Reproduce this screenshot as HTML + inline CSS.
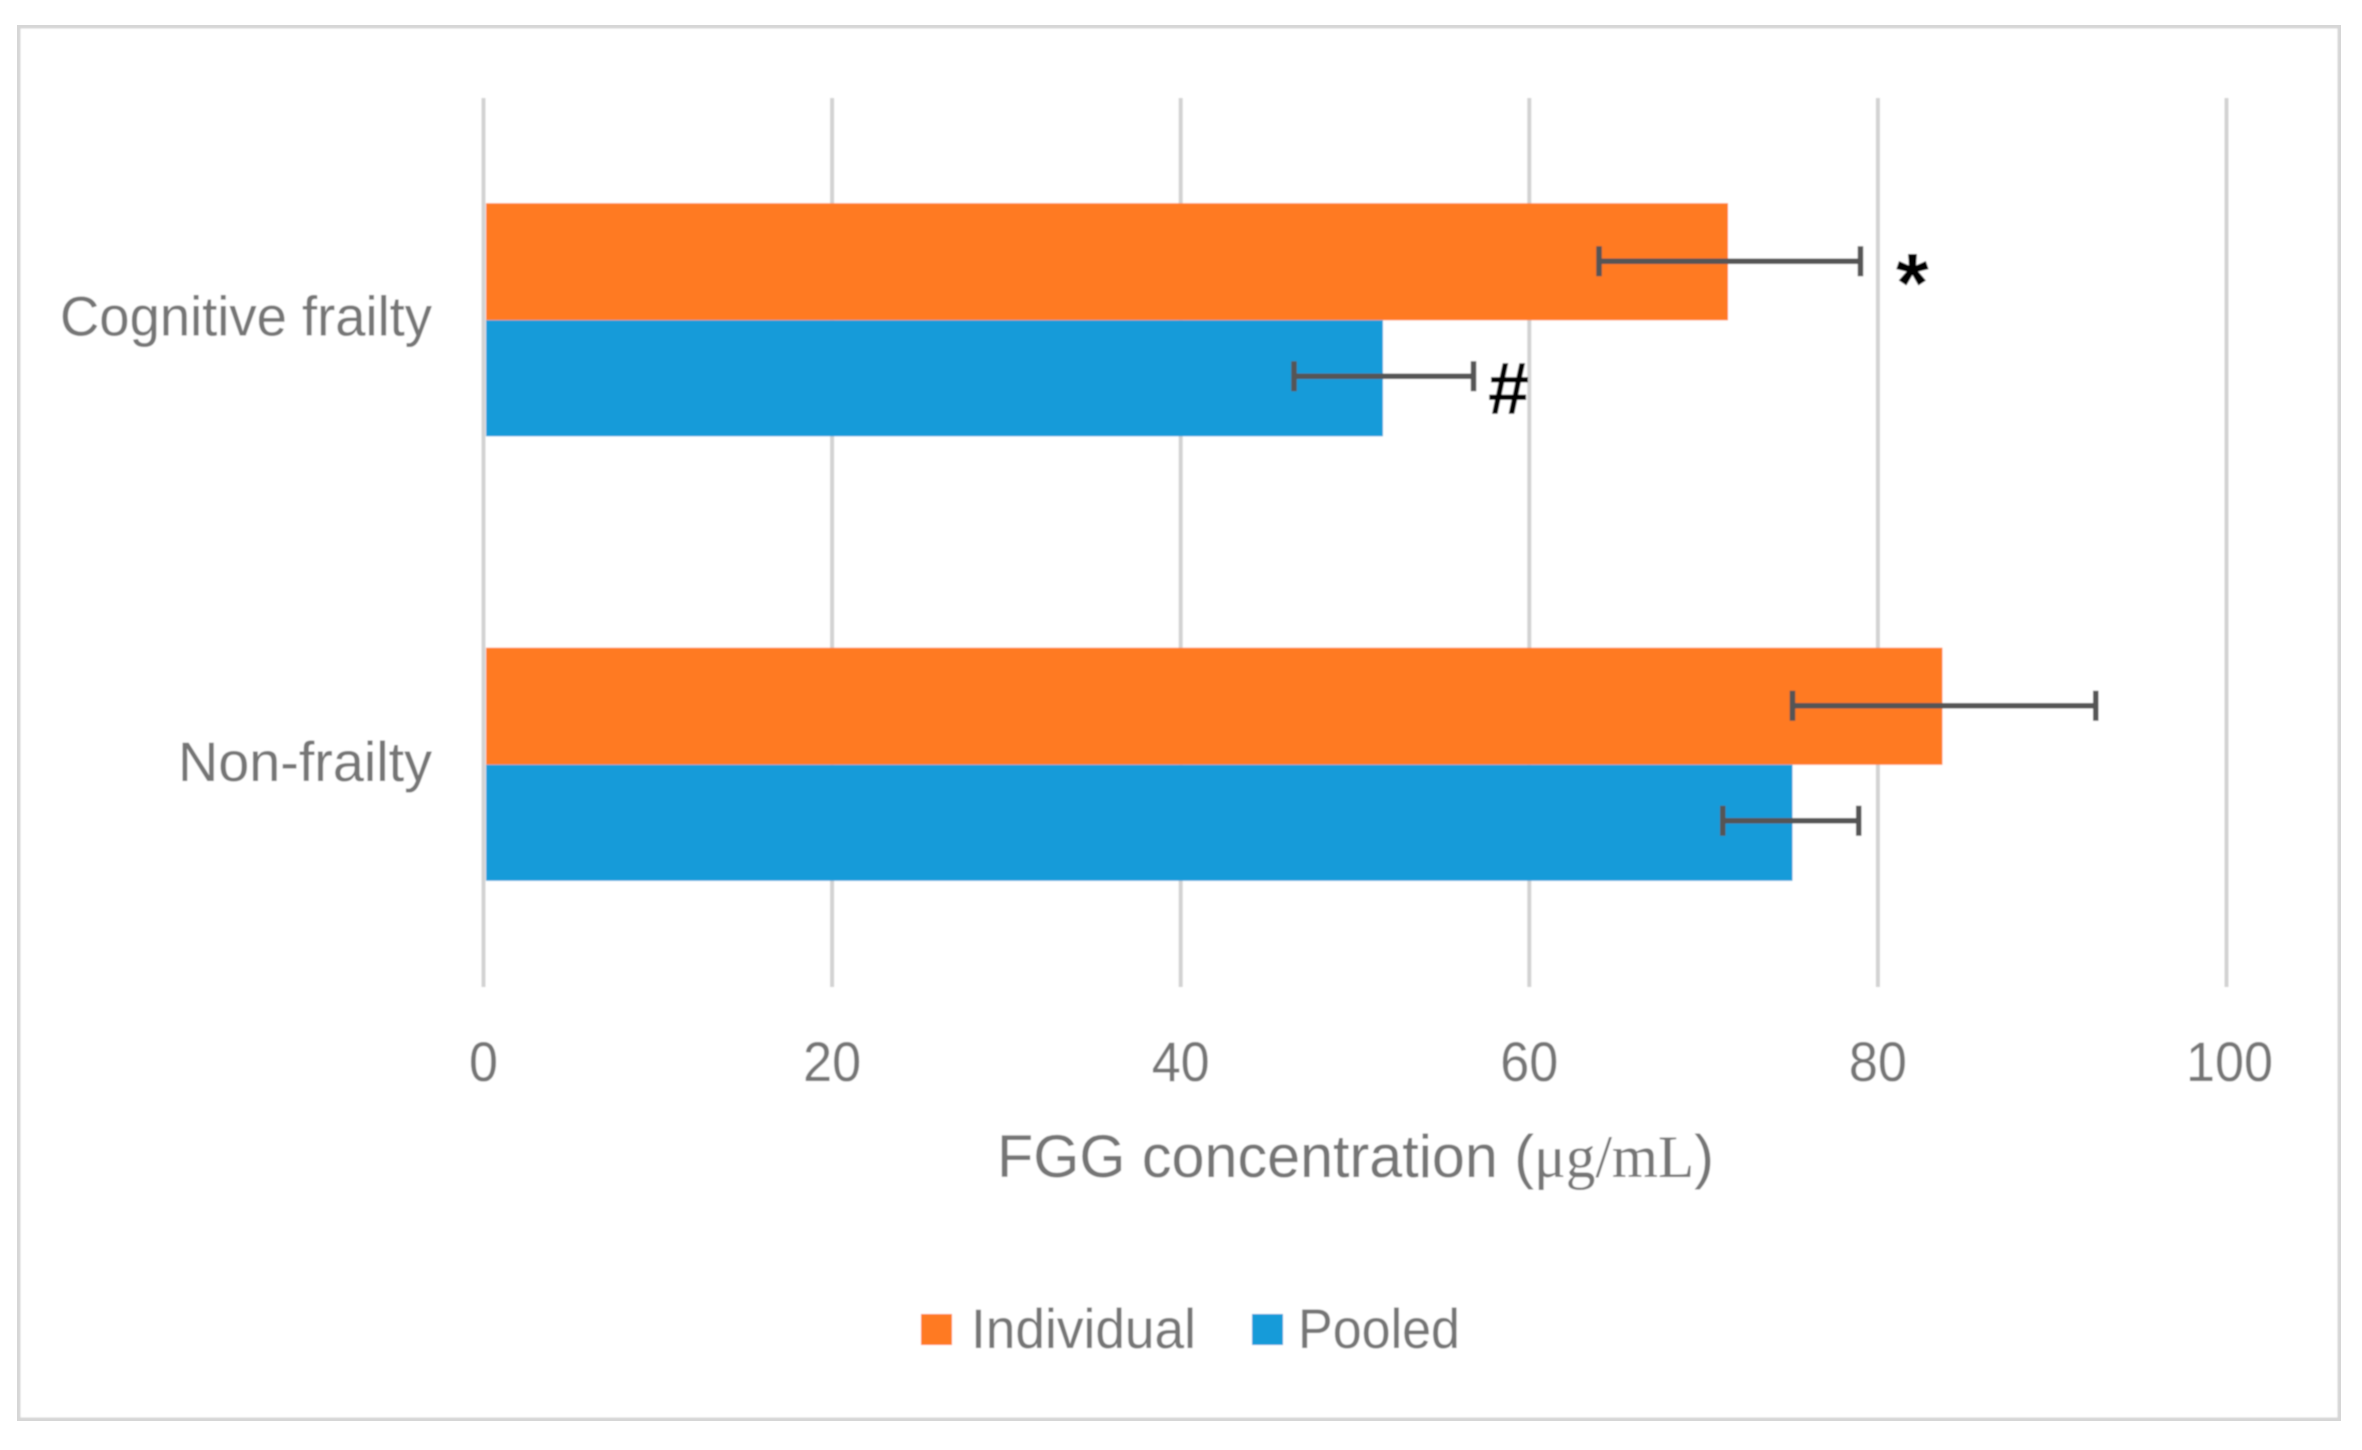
<!DOCTYPE html>
<html>
<head>
<meta charset="utf-8">
<style>
html,body{margin:0;padding:0;background:#fff;width:2362px;height:1450px;overflow:hidden}
svg{display:block}
text{font-family:"Liberation Sans",sans-serif;fill:#747474}
</style>
</head>
<body>
<svg id="chart" xmlns="http://www.w3.org/2000/svg" width="2362" height="1450" viewBox="0 0 2362 1450">
<defs><filter id="soft" x="0" y="0" width="100%" height="100%"><feGaussianBlur stdDeviation="0.8"/></filter></defs>
<rect x="0" y="0" width="2362" height="1450" fill="#ffffff"/>
<g filter="url(#soft)">
<rect x="17" y="25" width="2324" height="1396" fill="#ffffff" stroke="#d6d6d6" stroke-width="7"/>
<g id="grid"></g>
<g id="bars"></g>
<g id="errors"></g>
<g id="xticks"></g>
<g id="ycats"></g>
<text x="997" y="1177" font-size="60" textLength="717" lengthAdjust="spacingAndGlyphs">FGG concentration (<tspan style="font-family:'Liberation Serif',serif">μg/mL</tspan>)</text>
<text x="1896" y="312" font-size="84" font-weight="bold" style="fill:#000">*</text>
<text x="1488" y="414" font-size="74" font-weight="bold" style="fill:#000">#</text>
<rect x="921" y="1314" width="31" height="31" fill="#ff7a23"/>
<text x="971" y="1348" font-size="56" textLength="225" lengthAdjust="spacingAndGlyphs">Individual</text>
<rect x="1252" y="1314" width="31" height="31" fill="#189bd9"/>
<text x="1298" y="1348" font-size="56" textLength="162" lengthAdjust="spacingAndGlyphs">Pooled</text>
</g>
</svg>
<script>
const categories = ["Cognitive frailty", "Non-frailty"];
const individualValues = [71.4, 83.7];
const pooledValues = [51.6, 75.1];
const individualErrLow = [64.0, 75.1];
const individualErrHigh = [79.0, 92.5];
const pooledErrLow = [46.5, 71.1];
const pooledErrHigh = [56.8, 78.9];
const xTicks = [0, 20, 40, 60, 80, 100];

const NS = "http://www.w3.org/2000/svg";
const plotLeft = 483.5, plotRight = 2226.5, plotTop = 98, plotBottom = 987;
function xScale(v) { return plotLeft + (v / 100) * (plotRight - plotLeft); }
function bandCenter(i) { return plotTop + (i + 0.5) * (plotBottom - plotTop) / categories.length; }
function make(tag, attrs, parent) {
  const el = document.createElementNS(NS, tag);
  for (const k in attrs) el.setAttribute(k, attrs[k]);
  parent.appendChild(el);
  return el;
}
const grid = document.getElementById("grid");
const bars = document.getElementById("bars");
const errors = document.getElementById("errors");
const xticks = document.getElementById("xticks");
const ycats = document.getElementById("ycats");

xTicks.forEach(function (t) {
  const line = make("line", { x1: xScale(t), x2: xScale(t), y1: plotTop, y2: plotBottom, stroke: "#d2d2d2", "stroke-width": 4 }, grid);
  
  
  const label = make("text", { x: xScale(t) + (t === 100 ? 3 : 0), y: 1081, "font-size": 56, "text-anchor": "middle", textLength: String(t).length * 29, lengthAdjust: "spacingAndGlyphs" }, xticks);
  label.textContent = String(t);
  
  
});

function drawBar(value, top, height, color, name) {
  const el = make("rect", { x: xScale(0) + 2.5, y: top, width: xScale(value) - xScale(0) - 2.5, height: height, fill: color }, bars);
  
  
}
function drawError(low, high, y, name) {
  const g = make("g", { stroke: "#555555", "stroke-width": 5.5, fill: "none" }, errors);
  
  
  make("line", { x1: xScale(low), x2: xScale(high), y1: y, y2: y }, g);
  make("line", { x1: xScale(low), x2: xScale(low), y1: y - 15, y2: y + 15 }, g);
  make("line", { x1: xScale(high), x2: xScale(high), y1: y - 15, y2: y + 15 }, g);
}

const catWidths = [372, 254];
categories.forEach(function (c, i) {
  const cy = bandCenter(i);
  drawBar(individualValues[i], cy - 117, 117, "#ff7a23", "bar-individual-" + i);
  drawBar(pooledValues[i], cy, 116, "#189bd9", "bar-pooled-" + i);
  drawError(individualErrLow[i], individualErrHigh[i], cy - 59, "error-bar-individual-" + i);
  drawError(pooledErrLow[i], pooledErrHigh[i], cy + 56, "error-bar-pooled-" + i);
  const label = make("text", { x: 432, y: cy + 15 + i, "font-size": 56, "text-anchor": "end", textLength: catWidths[i], lengthAdjust: "spacingAndGlyphs" }, ycats);
  label.textContent = c;
  
  
});
</script>
</body>
</html>
